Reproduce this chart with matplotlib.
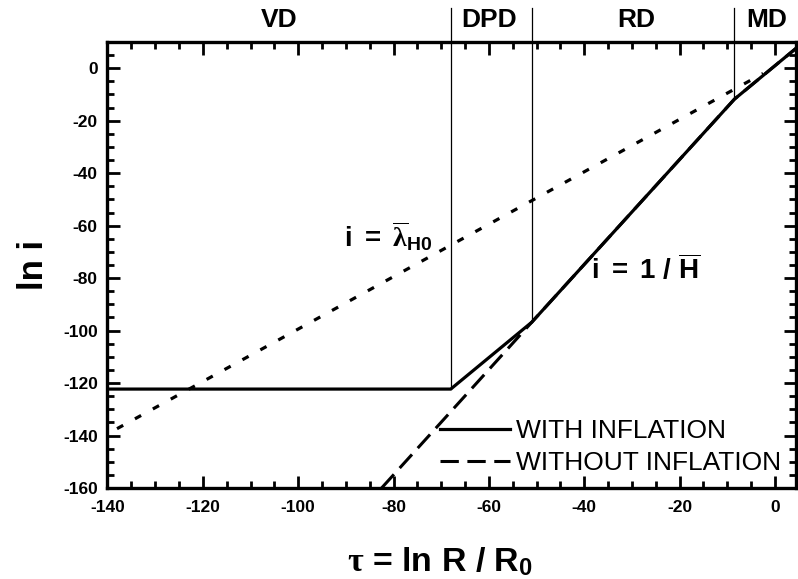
import matplotlib
matplotlib.use('Agg')
import matplotlib.pyplot as plt

plt.rcParams['font.family'] = 'Liberation Sans'
plt.rcParams['font.weight'] = 'bold'
plt.rcParams['axes.unicode_minus'] = False
plt.rcParams['mathtext.fontset'] = 'custom'
plt.rcParams['mathtext.rm'] = 'Liberation Sans:bold'
plt.rcParams['mathtext.it'] = 'Liberation Serif'
plt.rcParams['mathtext.bf'] = 'Liberation Sans:bold'

# ln i against tau, with and without an inflationary phase
with_tau = [-140, -68, -51, -8.5, 4.5]
with_lni = [-122.3, -122.3, -96.8, -11.8, 7.7]

without_tau = [-82.5, -51, -8.5, 4.5]
without_lni = [-160, -96.8, -11.8, 7.7]

# i = lambda_H0 reference line
lam_tau = [-138, -2.5]
lam_lni = [-137.4, -2.0]

# era boundaries and their labels
bound_tau = [-68, -51, -8.5]
bound_lni = [-122.3, -96.8, -11.8]
era_names = ['VD', 'DPD', 'RD', 'MD']
era_tau = [-103.9, -59.9, -29.1, -1.7]

fig = plt.figure(figsize=(7.98, 5.79), dpi=100)
ax = fig.add_axes([0.1347, 0.1572, 0.8633, 0.7703])

ax.plot(lam_tau, lam_lni, color='black', lw=2.3, linestyle=(0, (2.2, 4.2)))
ax.plot(without_tau, without_lni, color='black', lw=2.2, linestyle=(0, (6, 2.8)),
        label='WITHOUT INFLATION')
ax.plot(with_tau, with_lni, color='black', lw=2.3, label='WITH INFLATION')

for t, v in zip(bound_tau, bound_lni):
    ax.plot([t, t], [v, 23], color='black', lw=0.9, clip_on=False)

for name, t in zip(era_names, era_tau):
    ax.text(t, 18.4, name, ha='center', va='center', fontsize=19,
            fontweight='bold', clip_on=False)

ax.text(-90.3, -68.2, r'$\mathrm{i\ =\ }\overline{\lambda}_{\mathrm{H0}}$', fontsize=20,
        ha='left', va='baseline')
ax.text(-38.5, -80.2, r'$\mathrm{i\ =\ 1\ /\ }\overline{\mathrm{H}}$', fontsize=20,
        ha='left', va='baseline')

ax.set_xlim(-140, 4.5)
ax.set_ylim(-160, 10)
ax.set_xticks(range(-140, 1, 20))
ax.set_yticks(range(-160, 1, 20))
ax.set_xticks(range(-140, 5, 5), minor=True)
ax.set_yticks(range(-160, 10, 5), minor=True)
ax.tick_params(which='both', direction='in', top=True, right=True, width=2)
ax.tick_params(which='major', length=9, labelsize=12.5)
ax.tick_params(which='minor', length=5)
ax.tick_params(axis='x', pad=8.5)
ax.tick_params(axis='y', pad=7)
for lab in ax.get_xticklabels() + ax.get_yticklabels():
    lab.set_fontweight('bold')
for sp in ax.spines.values():
    sp.set_linewidth(2.4)

ax.set_xlabel(r'$\tau$ = ln R / R$_\mathrm{0}$', fontsize=24.5, fontweight='bold', labelpad=22)
ax.xaxis.label.set_x(0.482)
ax.set_ylabel('ln i', fontsize=25, fontweight='bold', labelpad=9)

handles, labels = ax.get_legend_handles_labels()
leg = ax.legend(handles[::-1], labels[::-1], loc='upper left',
                bbox_to_anchor=(0.4826, 0.155), frameon=False, borderpad=0,
                borderaxespad=0, handlelength=2.65, handletextpad=0.25,
                labelspacing=0.32, prop={'family': 'Liberation Sans',
                                         'weight': 'normal', 'size': 19})

fig.savefig('out.png', dpi=100)
